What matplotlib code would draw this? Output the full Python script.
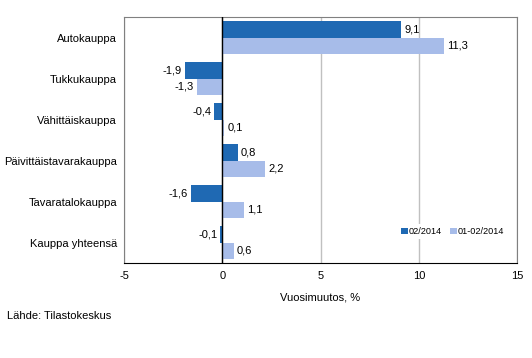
import numpy as np
import matplotlib.pyplot as plt

plt.rcParams['font.family'] = ['Liberation Sans', 'DejaVu Sans']
plt.rcParams['axes.unicode_minus'] = False

categories = ["Autokauppa", "Tukkukauppa", "Vähittäiskauppa",
              "Päivittäistavarakauppa", "Tavaratalokauppa", "Kauppa yhteensä"]
month = [9.1, -1.9, -0.4, 0.8, -1.6, -0.1]
cumul = [11.3, -1.3, 0.1, 2.2, 1.1, 0.6]
series_names = ["02/2014", "01-02/2014"]

dark = "#1f69b3"
light = "#a7bce9"

fig = plt.figure(figsize=(5.32, 3.58), dpi=100)
ax = fig.add_axes([0.233, 0.265, 0.739, 0.6875])

y = np.arange(len(categories))
h = 0.4
ax.barh(y - h / 2, month, height=h, color=dark, label=series_names[0], zorder=3)
ax.barh(y + h / 2, cumul, height=h, color=light, label=series_names[1], zorder=3)

def fmt(v):
    return ("%.1f" % v).replace(".", ",")

fs = 8
for yy, vals in ((y - h / 2, month), (y + h / 2, cumul)):
    for yi, v in zip(yy, vals):
        if v < 0:
            ax.text(v - 0.15, yi, fmt(v), ha="right", va="center", fontsize=fs)
        else:
            ax.text(v + 0.15, yi, fmt(v), ha="left", va="center", fontsize=fs)

ax.set_xlim(-5, 15)
ax.set_ylim(len(categories) - 0.5, -0.5)
ax.set_xticks([-5, 0, 5, 10, 15])
ax.set_yticks(y)
ax.set_yticklabels(categories, fontsize=fs)
ax.tick_params(axis="x", labelsize=fs, length=0, pad=6)
ax.tick_params(axis="y", length=0, pad=5)

ax.grid(axis="x", color="#c0c0c0", linewidth=1, zorder=0)
ax.axvline(0, color="black", linewidth=1, zorder=4)
for s in ["left", "top", "right"]:
    ax.spines[s].set_color("#808080")
ax.spines["bottom"].set_color("black")

ax.set_xlabel("Vuosimuutos, %", fontsize=fs, labelpad=8)

leg = ax.legend(loc="lower right", ncol=2, fontsize=6.6, frameon=True,
                handlelength=0.7, handleheight=0.7, handletextpad=0.1,
                columnspacing=0.9, borderpad=0.3, bbox_to_anchor=(0.985, 0.08))
leg.get_frame().set_edgecolor("none")
leg.get_frame().set_facecolor("white")
leg.get_frame().set_alpha(1)
leg.set_zorder(5)

fig.text(0.013, 0.117, "Lähde: Tilastokeskus", fontsize=fs, ha="left", va="center")

fig.savefig("out.png", dpi=100)
